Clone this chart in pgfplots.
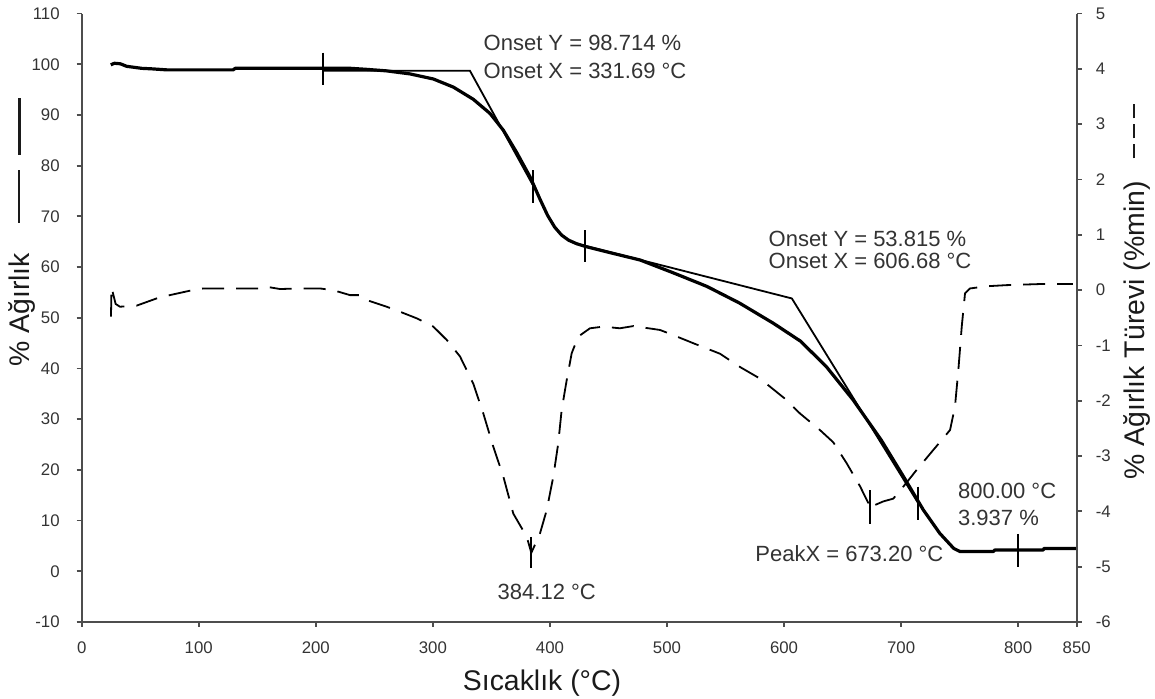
\documentclass[border=0pt]{standalone}
\usepackage{pgfplots}
\pgfplotsset{compat=1.18}
\usepackage{fontspec}
\setmainfont{Liberation Sans}
\definecolor{tickc}{HTML}{333333}
\definecolor{axc}{HTML}{4D4D4D}
\definecolor{labc}{HTML}{1A1A1A}
\begin{document}
\begin{tikzpicture}
\pgfplotsset{
 common/.style={
  at={(0,0)}, anchor=south west, scale only axis, width=497.5pt, height=304.2pt,
  xmin=0, xmax=850, clip=false,
  tick align=outside, major tick length=2.5pt,
  axis line style={axc, line width=1pt, -},
  every tick/.style={axc, line width=0.9pt},
  ticklabel style={font=\fontsize{8.4}{10}\selectfont, text=tickc},
  /pgf/number format/assume math mode=true,
 }
}
\begin{axis}[common, axis x line*=bottom, axis y line*=left,
  ymin=-10, ymax=110, ytick={-10,0,...,110}, xtick={0,100,...,800,850},
  yticklabel style={xshift=-5pt}, xticklabel style={yshift=-4pt}]
% TGA curve
\addplot[black, line width=1.6pt, line join=round] coordinates {
(24.8,99.9)(28,100.2)(33,100.1)(38.4,99.6)(51.3,99.2)(60,99.1)(72.6,98.9)(129.5,98.9)(131,99.2)(206.4,99.2)(230,99.2)(243.5,99.0)(260.5,98.7)(280.5,98.1)(300.4,97.1)(317.5,95.5)(334.5,93.1)(348.8,90.3)(360.2,87.0)(371.6,82.6)(383,77.8)(391.5,73.4)(398,70.2)(404,67.9)(410,66.3)(416,65.3)(422.9,64.6)(431.4,64.0)(454,62.7)(477,61.4)(505,58.9)(534,56.2)(562,52.9)(591,48.9)(614,45.4)(636,40.4)(659,33.8)(683,25.9)(702,18.7)(719,12.1)(733,7.5)(745,4.5)(750.3,3.9)(778.8,3.9)(780,4.2)(821.4,4.2)(822,4.5)(850,4.5)
};
% tangents
\addplot[black, line width=0.9pt] coordinates {(206.4,98.714)(331.69,98.714)(385.8,76.0)};
\addplot[black, line width=0.9pt] coordinates {(430,64.2)(606.68,53.815)(714.7,13.4)};
% tick marks on TGA
\addplot[black, line width=0.9pt] coordinates {(206.4,102.3)(206.4,95.9)};
\addplot[black, line width=0.9pt] coordinates {(385.8,79.1)(385.8,72.6)};
\addplot[black, line width=0.9pt] coordinates {(430,67.3)(430,61.1)};
\addplot[black, line width=0.9pt] coordinates {(714.7,16.7)(714.7,10.1)};
\addplot[black, line width=0.9pt] coordinates {(800,7.4)(800,0.9)};
\end{axis}
\begin{axis}[common, axis y line*=right, axis x line=none,
  ymin=-6, ymax=5, ytick={-6,-5,...,5}, yticklabel style={xshift=3.5pt}]
\addplot[black, line width=0.9pt, dash pattern=on 11pt off 6pt] coordinates {
(25,-0.48)(25.5,0.05)(29,-0.25)(32.7,-0.3)(47,-0.28)(64,-0.15)(75.4,-0.09)(92.5,-0.01)(103.6,0.03)(152,0.03)(158,0.06)(169.4,0.02)(186.5,0.03)(203.6,0.03)(214.7,0.0)(229.2,-0.09)(237.7,-0.09)(243.5,-0.18)(260.5,-0.3)(271.9,-0.39)(286.2,-0.51)(300.4,-0.66)(311.8,-0.9)(323.2,-1.2)(334.5,-1.69)(343.1,-2.23)(351.6,-2.83)(360.2,-3.37)(368.7,-4.04)(380.2,-4.46)(384.1,-4.75)(391.5,-4.4)(397.2,-3.98)(402.9,-3.37)(407.1,-2.77)(410,-2.17)(414.3,-1.63)(418.6,-1.14)(424.2,-0.84)(434.2,-0.69)(445.6,-0.66)(459.8,-0.69)(471.2,-0.65)(494,-0.72)(505,-0.81)(522.5,-0.96)(545.3,-1.15)(562.4,-1.39)(579.5,-1.6)(600,-1.95)(613.6,-2.23)(630.7,-2.53)(642,-2.75)(653.5,-3.13)(665,-3.55)(672,-3.85)(673.4,-3.95)(676,-3.9)(684.8,-3.82)(693.3,-3.77)(702,-3.55)(713.3,-3.25)(727.5,-2.89)(741.8,-2.53)(746,-2.11)(748.9,-1.45)(751.8,-0.66)(754.6,-0.06)(758.8,0.03)(773,0.07)(790,0.09)(818.7,0.11)(846.8,0.11)
};
\addplot[black, line width=0.9pt] coordinates {(384.12,-4.46)(384.12,-5.03)};
\addplot[black, line width=0.9pt] coordinates {(673.2,-3.62)(673.2,-4.22)};
\end{axis}
% annotations
\begin{scope}[every node/.style={inner sep=0, font=\fontsize{11}{13}\selectfont, text=tickc}]
\node[anchor=west] at (200.8pt,289.35pt) {Onset Y = 98.714 \%};
\node[anchor=west] at (200.8pt,275.6pt) {Onset X = 331.69 °C};
\node[anchor=west] at (343.3pt,191.4pt) {Onset Y = 53.815 \%};
\node[anchor=west] at (343.3pt,180.6pt) {Onset X = 606.68 °C};
\node[anchor=west] at (336.65pt,34.35pt) {PeakX = 673.20 °C};
\node[anchor=west] at (207.8pt,15.15pt) {384.12 °C};
\node[anchor=west] at (438pt,65.6pt) {800.00 °C};
\node[anchor=west] at (438pt,52.1pt) {3.937 \%};
\end{scope}
% axis labels
\begin{scope}[every node/.style={inner sep=0, font=\fontsize{14.2}{16}\selectfont, text=labc}]
\node[anchor=center] at (230.15pt,-30.5pt) {Sıcaklık (°C)};
\node[rotate=90, anchor=west] at (-30pt,127.5pt) {\% Ağırlık\hspace{15pt}\raisebox{0.33em}{\rule{26.5pt}{0.7pt}}\hspace{7.5pt}\raisebox{0.3em}{\rule{28.5pt}{1.6pt}}};
\node[rotate=90, anchor=west] at (527.5pt,71pt) {\% Ağırlık Türevi (\%min)\hspace{11.5pt}\raisebox{0.33em}{\rule{7pt}{0.8pt}}\hspace{3pt}\raisebox{0.33em}{\rule{7pt}{0.8pt}}\hspace{3pt}\raisebox{0.33em}{\rule{7pt}{0.8pt}}};
\end{scope}
\pgfresetboundingbox
\useasboundingbox (-40.85pt,-38.5pt) rectangle (536.65pt,311pt);
\end{tikzpicture}
\end{document}
